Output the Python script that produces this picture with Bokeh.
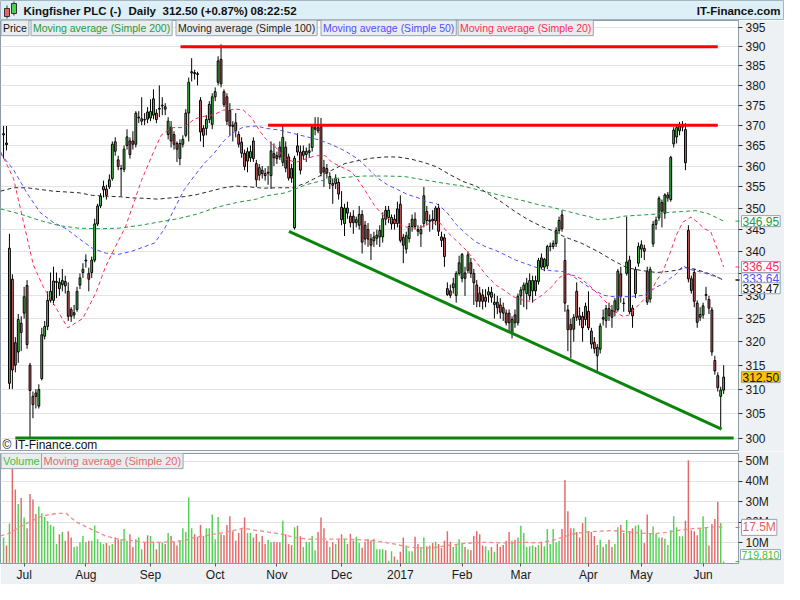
from bokeh.plotting import figure
from bokeh.models import Range1d, FixedTicker, BasicTickFormatter, Label, ColumnDataSource, GridBox
from bokeh.embed import file_html
from bokeh.resources import INLINE
from bokeh.core.properties import value

# ---------------- data ----------------
opens = [
    367.6, 365.6, 311.2, 333.7, 319.8, 317.8, 324.0, 326.2, 332.3, 315.0,
    308.5, 309.2, 306.5, 312.2, 321.2, 323.3, 329.0, 329.0, 333.0, 333.0,
    332.5, 333.2, 331.0, 327.0, 325.8, 327.0, 332.4, 335.2, 337.8, 335.0,
    335.2, 338.0, 346.3, 350.5, 354.3, 354.5, 355.0, 357.0, 365.9, 361.5,
    359.3, 359.2, 365.0, 366.1, 366.1, 365.3, 371.8, 371.0, 371.4, 373.3,
    371.8, 372.5, 373.0, 374.0, 374.8, 374.6, 367.7, 369.5, 367.7, 365.5,
    361.8, 365.3, 367.5, 373.0, 383.2, 383.3, 383.0, 376.2, 369.2, 369.2,
    371.4, 370.2, 377.1, 380.8, 386.7, 378.4, 377.1, 373.7, 370.0, 370.6,
    367.7, 365.8, 363.1, 361.2, 362.0, 366.1, 360.6, 357.8, 359.0, 358.2,
    358.3, 357.7, 363.0, 362.5, 364.6, 360.9, 364.6, 362.2, 359.4, 345.4,
    364.9, 363.4, 362.6, 362.8, 363.3, 364.5, 369.0, 369.4, 369.6, 359.6,
    359.4, 355.8, 355.8, 355.8, 356.1, 350.2, 346.4, 350.0, 348.1, 348.1,
    346.6, 346.0, 348.5, 346.0, 345.0, 342.8, 342.4, 343.0, 343.3, 343.3,
    349.5, 347.8, 346.3, 347.4, 346.4, 350.9, 343.2, 340.5, 342.9, 345.7,
    347.4, 345.0, 344.0, 346.4, 349.2, 346.9, 347.4, 347.0, 350.0, 343.3,
    343.1, 331.6, 331.1, 331.8, 330.1, 335.0, 333.9, 335.1, 335.7, 337.4,
    335.0, 332.4, 330.6, 330.2, 328.8, 330.2, 330.8, 328.1, 328.6, 328.0,
    327.4, 326.2, 326.2, 321.8, 325.8, 324.1, 330.0, 331.3, 330.5, 330.0,
    331.1, 333.4, 333.2, 338.5, 336.4, 336.7, 341.1, 341.1, 341.8, 344.8,
    348.4, 337.9, 326.9, 323.7, 322.7, 331.0, 325.6, 325.5, 324.8, 326.6,
    322.3, 319.9, 317.0, 318.4, 325.2, 324.6, 327.2, 326.8, 326.5, 327.0,
    334.9, 328.4, 335.0, 338.0, 327.3, 330.5, 337.3, 340.5, 340.7, 335.5,
    329.3, 341.7, 346.2, 347.7, 351.3, 348.8, 352.4, 352.0, 365.4, 367.1,
    368.6, 369.5, 368.9, 344.8, 333.8, 335.2, 328.4, 325.3, 325.8, 330.1,
    329.2, 326.9, 316.0, 312.8, 308.5, 309.8,
]
highs = [
    369.8, 369.8, 344.0, 334.8, 321.0, 326.0, 325.5, 332.0, 333.5, 315.5,
    309.5, 310.0, 311.0, 323.0, 324.5, 331.0, 335.2, 336.5, 335.2, 334.0,
    336.0, 334.5, 333.0, 327.5, 328.0, 332.0, 335.0, 337.3, 339.3, 336.3,
    338.8, 347.5, 351.0, 353.5, 356.5, 355.5, 358.0, 366.0, 367.0, 362.5,
    360.3, 365.0, 369.0, 367.0, 368.5, 373.5, 373.5, 377.0, 373.0, 374.5,
    376.5, 379.0, 374.0, 380.0, 377.0, 375.5, 372.0, 371.0, 368.5, 366.0,
    366.5, 367.5, 374.0, 382.0, 387.0, 384.0, 383.5, 377.0, 370.0, 372.5,
    376.0, 378.0, 379.5, 387.5, 390.6, 379.0, 378.0, 375.5, 371.0, 373.0,
    368.5, 367.0, 364.0, 364.5, 365.0, 367.0, 361.5, 360.5, 360.0, 359.5,
    360.0, 366.0, 365.5, 363.5, 366.0, 370.0, 366.0, 363.0, 360.5, 362.5,
    368.0, 365.0, 365.0, 364.5, 365.5, 370.3, 372.0, 372.0, 371.8, 361.5,
    360.5, 358.5, 357.0, 358.0, 357.0, 354.0, 351.0, 351.5, 349.0, 349.5,
    348.0, 350.5, 349.5, 347.0, 346.5, 344.0, 344.5, 345.0, 346.0, 349.0,
    350.5, 350.5, 348.5, 348.5, 351.5, 353.0, 344.0, 344.5, 346.5, 348.5,
    349.0, 346.0, 346.0, 355.0, 350.5, 348.5, 349.5, 350.5, 351.0, 344.5,
    344.0, 333.0, 332.5, 334.0, 335.5, 339.0, 339.6, 336.5, 340.0, 338.5,
    336.0, 333.5, 332.0, 331.5, 331.5, 332.0, 332.0, 330.5, 330.0, 329.5,
    328.5, 327.0, 327.0, 325.5, 327.0, 330.5, 332.0, 333.0, 334.0, 335.0,
    334.5, 334.5, 338.5, 339.5, 338.5, 341.5, 342.0, 342.5, 345.5, 348.0,
    349.5, 343.0, 328.0, 325.0, 326.0, 333.0, 327.5, 326.5, 328.5, 331.0,
    323.0, 321.0, 319.5, 324.0, 327.0, 328.0, 328.5, 328.0, 329.5, 336.0,
    336.5, 329.5, 348.0, 339.0, 328.0, 336.5, 342.0, 342.5, 341.5, 336.5,
    336.5, 347.0, 348.0, 352.8, 352.0, 353.5, 353.8, 362.5, 369.5, 370.0,
    370.8, 371.0, 370.5, 346.0, 334.5, 336.0, 329.0, 327.5, 328.5, 332.0,
    330.0, 327.5, 317.0, 313.5, 310.5, 315.0,
]
lows = [
    361.8, 363.8, 310.0, 310.0, 313.5, 315.5, 318.0, 325.0, 318.5, 300.1,
    304.0, 306.0, 306.0, 311.8, 320.5, 322.5, 328.5, 328.0, 329.5, 330.0,
    331.0, 330.5, 324.5, 324.3, 325.0, 326.5, 331.5, 334.0, 336.3, 331.0,
    334.0, 337.5, 345.8, 350.0, 352.5, 352.0, 354.5, 356.5, 362.5, 359.0,
    352.8, 358.5, 364.0, 361.8, 364.0, 364.5, 370.5, 370.0, 370.0, 370.5,
    371.0, 371.5, 370.5, 372.0, 372.5, 372.5, 366.5, 364.5, 364.0, 361.0,
    360.2, 364.5, 367.0, 366.0, 381.0, 381.5, 380.0, 366.0, 364.6, 367.5,
    370.5, 369.0, 376.0, 380.0, 379.5, 374.5, 370.0, 367.5, 366.0, 367.0,
    364.5, 362.0, 359.0, 358.5, 361.0, 361.0, 355.0, 356.5, 357.0, 356.5,
    355.5, 354.5, 360.0, 360.5, 361.5, 360.0, 358.5, 356.5, 356.0, 345.0,
    362.5, 358.0, 361.5, 361.0, 362.0, 363.5, 367.5, 368.0, 357.5, 355.0,
    357.0, 354.5, 351.0, 354.5, 352.0, 346.0, 343.5, 347.5, 345.5, 344.0,
    345.5, 345.0, 339.5, 341.5, 341.0, 338.0, 341.0, 341.5, 341.0, 342.0,
    346.0, 346.5, 345.0, 345.0, 345.5, 342.0, 337.3, 339.5, 342.0, 344.5,
    345.0, 343.5, 341.0, 345.5, 346.0, 344.5, 345.0, 346.0, 343.5, 341.0,
    336.5, 330.0, 329.5, 330.5, 328.5, 334.5, 333.0, 330.0, 335.0, 334.0,
    328.0, 327.5, 327.5, 327.0, 327.5, 328.5, 328.5, 325.0, 326.0, 325.0,
    324.5, 323.5, 322.0, 320.7, 323.0, 323.5, 328.0, 327.5, 327.0, 329.0,
    328.5, 330.0, 332.5, 336.0, 335.5, 336.0, 340.0, 340.5, 341.0, 344.0,
    344.5, 326.5, 318.0, 316.5, 320.0, 324.5, 323.5, 320.0, 323.5, 322.5,
    318.5, 317.5, 313.8, 317.5, 323.5, 323.0, 324.5, 323.0, 325.5, 326.5,
    328.5, 326.5, 334.5, 326.0, 323.0, 329.5, 336.5, 338.5, 338.0, 328.0,
    328.5, 341.0, 345.0, 347.0, 345.5, 347.5, 351.5, 351.5, 364.5, 365.5,
    367.5, 368.5, 359.0, 333.0, 330.5, 327.5, 323.0, 324.5, 325.0, 329.0,
    326.0, 317.0, 313.0, 309.5, 301.9, 309.0,
]
closes = [
    367.9, 365.2, 340.7, 314.0, 315.0, 324.8, 322.0, 329.8, 319.4, 309.7,
    306.8, 308.5, 309.9, 321.5, 323.3, 329.0, 331.0, 333.3, 333.2, 331.6,
    333.4, 332.2, 325.5, 325.5, 326.3, 331.0, 334.0, 335.9, 338.0, 333.7,
    338.0, 346.3, 350.5, 352.8, 355.1, 353.0, 356.7, 365.3, 363.6, 359.9,
    359.4, 364.1, 367.1, 362.8, 365.3, 373.0, 372.0, 371.6, 371.3, 371.5,
    373.4, 376.6, 371.4, 374.2, 375.0, 374.0, 371.0, 366.1, 365.3, 364.1,
    365.5, 366.5, 373.0, 380.8, 383.5, 383.0, 382.8, 368.3, 367.5, 371.4,
    375.2, 377.1, 378.4, 386.3, 380.4, 375.2, 371.0, 369.8, 369.7, 368.6,
    365.3, 363.1, 359.9, 363.5, 363.5, 361.8, 356.7, 359.6, 358.2, 357.7,
    358.5, 363.7, 362.0, 361.8, 362.2, 367.0, 359.5, 357.1, 357.1, 361.9,
    363.4, 359.0, 363.6, 363.6, 363.7, 369.6, 369.4, 368.6, 358.3, 358.6,
    358.3, 357.5, 355.4, 357.1, 353.3, 347.3, 350.0, 348.8, 346.6, 346.6,
    347.3, 348.5, 342.1, 342.8, 342.8, 341.4, 343.3, 343.7, 344.8, 347.5,
    347.4, 349.5, 347.8, 346.4, 349.8, 342.5, 341.4, 343.6, 345.7, 347.4,
    345.7, 344.6, 345.0, 352.9, 347.1, 347.2, 347.0, 350.0, 344.6, 342.5,
    338.8, 330.3, 330.1, 332.7, 335.0, 337.4, 339.3, 333.9, 339.2, 335.0,
    332.9, 328.8, 328.8, 328.8, 329.7, 330.9, 329.7, 328.6, 327.4, 326.4,
    326.2, 324.1, 324.1, 324.8, 324.1, 329.9, 331.3, 332.4, 332.8, 333.4,
    333.4, 331.1, 337.9, 336.4, 338.2, 341.1, 341.2, 341.8, 344.8, 347.1,
    345.2, 328.4, 322.6, 322.6, 325.3, 325.3, 324.8, 323.0, 327.7, 323.0,
    319.5, 318.5, 318.8, 323.4, 324.9, 327.2, 325.7, 325.3, 328.9, 335.5,
    329.9, 328.3, 337.6, 326.5, 325.6, 335.9, 341.1, 341.5, 340.0, 328.6,
    335.9, 346.2, 347.2, 352.3, 349.3, 353.1, 353.1, 362.1, 368.8, 369.4,
    369.8, 370.2, 360.8, 333.8, 331.2, 328.8, 324.2, 325.9, 327.8, 330.3,
    327.3, 317.8, 313.8, 310.3, 309.8, 312.5,
]
volume_m = [
    12.5, 8.6, 19.4, 46.6, 36.0, 29.0, 31.9, 22.3, 17.1, 33.9,
    31.1, 24.1, 27.7, 24.4, 22.6, 20.6, 18.7, 17.9, 9.4, 14.1,
    15.2, 11.0, 15.6, 12.5, 7.9, 8.3, 10.2, 13.3, 10.2, 11.0,
    11.0, 18.4, 11.7, 10.2, 9.4, 9.9, 8.6, 9.4, 12.5, 11.4,
    11.7, 16.7, 11.0, 14.1, 7.9, 11.7, 12.5, 6.8, 10.2, 13.6,
    13.3, 10.6, 6.8, 9.9, 10.2, 9.4, 14.8, 13.3, 10.2, 8.6,
    11.0, 17.1, 15.2, 32.2, 17.1, 14.1, 12.9, 18.7, 13.3, 17.1,
    17.1, 23.8, 11.7, 22.6, 14.1, 13.6, 18.7, 23.0, 15.6, 11.0,
    14.8, 17.1, 22.3, 14.8, 14.8, 12.5, 14.4, 10.4, 13.3, 9.4,
    11.4, 10.2, 10.4, 10.2, 10.2, 20.8, 14.1, 9.4, 8.9, 17.6,
    18.3, 13.2, 7.9, 10.4, 10.2, 13.3, 6.3, 15.2, 22.3, 17.1,
    11.0, 7.9, 10.2, 9.4, 11.7, 14.1, 11.9, 9.4, 14.4, 11.0,
    12.9, 9.9, 7.5, 10.4, 11.7, 11.0, 11.9, 6.8, 6.8, 6.8,
    6.3, 1.2, 5.8,
    3.2, 1.6, 5.5, 12.5, 8.6, 5.8, 5.8, 12.9, 9.4, 7.5,
    12.5, 8.3, 8.6, 9.9, 10.4, 9.4, 7.5, 11.0, 15.6, 10.4,
    7.9, 9.4, 11.7, 9.9, 7.9, 6.8, 6.3, 13.3, 15.6, 14.1,
    8.6, 8.3, 6.3, 7.9, 5.5, 9.4, 7.9, 8.9, 11.0, 15.2,
    11.0, 11.4, 12.5, 18.3, 14.8, 7.9, 8.3, 8.6, 7.9, 8.9,
    10.4, 8.3, 16.7, 9.4, 16.7, 10.2, 11.0, 16.7, 40.7, 25.4,
    17.1, 17.1, 15.2, 12.5, 19.7, 22.6, 15.6, 15.2, 13.3, 8.9,
    11.4, 7.9, 9.4, 11.4, 7.9, 9.4, 17.6, 18.7, 14.8, 21.1,
    15.2, 17.1, 18.3, 18.7, 16.4, 9.9, 23.8, 14.8, 17.9, 14.4,
    12.5, 12.5, 11.9, 8.9, 16.1, 23.0, 17.6, 13.2, 13.2, 20.8,
    50.4, 16.1, 15.6, 13.6, 16.7, 23.0, 17.6, 8.6, 19.2, 21.6,
    30.0, 19.7, 0.71981,
]

# moving averages (bar index, value)
ma20_x = [-1, 3.4, 5.7, 10.1, 13.5, 16.8, 21.8, 26.9, 31.3, 34.7, 38, 41.4, 43.6, 46.9, 50.3, 53.6, 57, 61.5, 64.8, 68.2,
          71.5, 74.9, 79.3, 81.5, 84.5, 87.1, 89.4, 92.7, 96, 99.4, 102.8, 106.1, 109.5, 111.7, 114.9, 118.4, 120.6, 122.8,
          126.2, 129.5, 132.9, 136.2, 138.5, 141.8, 145.2, 148.5, 150.7, 154.1, 157.5, 160.8, 164.2, 167.5, 170.9, 173.1,
          176.4, 179.8, 183.1, 186.5, 188.7, 190.9, 194.3, 196.5, 199.8, 203.2, 206.6, 208.8, 211, 213.2, 215.5, 217.7,
          219.9, 222.2, 224.4, 226.6, 228.9, 231.1, 233.9, 236.1, 238.4, 240.6, 242.3, 243.9, 245]
ma20_y = [363.5, 357.0, 350.0, 337.0, 332.0, 328.5, 323.0, 325.0, 330.5, 336.5, 341.0, 345.5, 349.8, 356.5, 362.2, 367.5,
          369.4, 369.4, 371.5, 372.2, 372.6, 373.8, 374.0, 373.8, 371.8, 368.6, 366.5, 364.5, 361.7, 360.9, 361.7, 362.5,
          362.5, 360.9, 359.8, 358.6, 356.7, 354.4, 350.6, 348.0, 346.9, 345.7, 345.4, 345.4, 346.5, 346.5, 344.6, 342.4,
          340.2, 337.6, 334.6, 332.4, 331.0, 329.9, 329.1, 328.7, 330.1, 332.0, 333.8, 334.9, 334.5, 333.8, 332.0, 329.8,
          327.6, 326.2, 325.4, 325.9, 327.6, 329.1, 330.6, 333.4, 335.6, 339.3, 343.7, 346.7, 347.9, 346.7, 345.2, 344.5,
          341.5, 338.5, 336.45]
ma50_x = [-1, 3.4, 7.9, 12.4, 16.8, 21.3, 25.7, 30.2, 34.7, 39.1, 43.6, 48.1, 51.4, 54.8, 58.1, 61.5, 64.8, 68.2, 71.5,
          74.9, 78.2, 81.5, 86, 89.4, 93.8, 98.3, 102.8, 107.2, 111.7, 116.1, 120.6, 124, 127.3, 130.6, 134, 137.4, 140.7,
          144, 147.4, 150.7, 154.1, 157.5, 160.8, 164.2, 167.5, 170.9, 174.2, 177.6, 179.8, 183.1, 186.5, 190.9, 194.3,
          197.6, 200.9, 204.3, 207.7, 211, 214.4, 217.7, 219.9, 222.2, 224.4, 226.6, 228.9, 231.1, 233.4, 235.6, 237.9,
          241.2, 245]
ma50_y = [363.0, 359.1, 353.6, 349.0, 346.7, 345.2, 342.9, 340.7, 339.6, 339.3, 340.0, 341.1, 341.9, 345.2, 349.8, 354.4,
          357.5, 360.6, 363.0, 366.1, 368.2, 369.5, 369.8, 369.2, 368.8, 368.0, 367.2, 366.4, 365.2, 363.7, 361.7, 359.4,
          357.1, 355.5, 354.4, 353.2, 352.5, 351.5, 351.0, 349.1, 346.1, 343.9, 342.1, 341.0, 340.2, 339.1, 338.0, 337.2,
          336.7, 335.9, 335.6, 335.4, 334.1, 332.6, 331.2, 330.1, 329.8, 329.8, 329.9, 330.1, 330.9, 332.0, 332.6, 333.8,
          334.9, 336.7, 335.9, 335.6, 335.2, 334.5, 333.64]
ma100_x = [-1, 3.4, 7.9, 12.4, 16.8, 21.3, 25.7, 30.2, 34.7, 39.1, 43.6, 48.1, 52.5, 57, 61.5, 65.9, 70.4, 74.9, 79.3,
           83.8, 88.2, 93.8, 98.3, 102.8, 107.2, 111.7, 116.1, 120.6, 125, 129.5, 134, 138.5, 142.9, 147.4, 151.9, 156.3,
           160.8, 165.3, 169.7, 174.2, 178.7, 183.1, 186.5, 190.9, 196.5, 202.1, 207.7, 212.1, 216.6, 222.2, 225.5, 228.9,
           232.2, 235.6, 241.2, 245]
ma100_y = [354.0, 354.8, 354.8, 354.4, 354.0, 353.8, 353.6, 353.0, 352.8, 352.7, 352.4, 352.3, 352.1, 352.4, 352.7,
           353.2, 354.0, 354.8, 355.2, 355.0, 354.7, 354.8, 354.8, 355.9, 357.5, 359.0, 360.6, 361.3, 361.9, 362.2, 362.2,
           361.7, 360.9, 359.8, 357.9, 356.3, 355.2, 353.2, 351.3, 349.1, 347.2, 345.7, 344.8, 343.3, 341.9, 340.0, 337.8,
           336.3, 335.7, 335.2, 335.4, 335.7, 336.3, 335.9, 334.7, 333.47]
ma200_x = [-1, 5.7, 12.4, 19, 25.7, 32.4, 39.1, 45.8, 52.5, 59.2, 65.9, 72.6, 79.3, 86, 89.4, 96, 102.8, 109.5, 116.1,
           122.8, 129.5, 136.2, 142.9, 149.6, 156.3, 163.1, 169.7, 176.4, 183.1, 186.5, 190.9, 195.4, 199.8, 202.1, 206.6,
           211, 215.5, 222.2, 226.6, 231.1, 235.6, 240.1, 245]
ma200_y = [349.8, 348.6, 347.1, 345.9, 345.3, 345.2, 345.3, 345.9, 346.7, 347.5, 348.6, 350.2, 351.3, 352.1, 352.9,
           353.6, 355.5, 356.7, 357.3, 357.6, 357.6, 357.5, 356.7, 355.9, 355.2, 354.0, 352.9, 351.8, 350.6, 350.2, 349.4,
           348.6, 347.9, 347.3, 347.5, 348.1, 348.3, 348.6, 349.0, 349.2, 349.4, 348.6, 346.95]
vma20_x = [-1, 2.3, 5.7, 9, 12.4, 15.7, 19, 21.3, 24.6, 28, 31.3, 34.7, 39.1, 43.6, 48.1, 52.5, 57, 61.5, 64.8, 68.2,
           72.6, 77.1, 81.5, 86, 90.5, 94.9, 99.4, 103.9, 108.3, 112.8, 117.3, 121.7, 126.2, 129.5, 132.9, 137.4, 141.8,
           146.3, 150.7, 155.2, 159.7, 164.1, 168.6, 173.1, 177.5, 182, 186.5, 189.8, 193.2, 197.6, 202.1, 206.5, 211,
           215.5, 219.9, 224.4, 228.9, 233.3, 237.8, 242.2, 245]
vma20_y = [13.3, 14.8, 17.9, 20.2, 22.6, 23.8, 24.4, 24.4, 20.2, 17.9, 15.6, 13.3, 11.7, 11.0, 10.2, 10.2, 10.4, 11.0,
           12.5, 13.3, 14.4, 15.6, 17.1, 16.0, 15.1, 14.1, 12.5, 11.7, 11.7, 11.7, 11.7, 11.4, 11.0, 10.2, 9.4, 7.9, 7.5,
           7.5, 8.6, 9.4, 9.9, 10.2, 9.9, 9.9, 10.2, 9.9, 11.0, 12.5, 14.1, 15.1, 15.6, 15.9, 15.6, 14.8, 14.4, 14.8,
           15.9, 16.7, 17.1, 17.9, 17.5]

# drawn trend lines (bar index / price)
res_levels = [390.0, 370.0]
res_start = [60.2, 90.0]
res_end = [243.0, 243.0]
sup_level = 300.0
sup_start, sup_end = 4.0, 248.4
diag_x = [97.1, 244.3]
diag_y = [344.6, 301.8]

month_idx = [7, 28, 50, 72, 93, 115, 135, 156, 176, 199, 217, 238]
month_labels = ["Jul", "Aug", "Sep", "Oct", "Nov", "Dec", "2017", "Feb", "Mar", "Apr", "May", "Jun"]
price_ticks = [300, 305, 310, 315, 320, 325, 330, 335, 340, 345, 350, 355, 360, 365, 370, 375, 380, 385, 390, 395]
vol_ticks = [10, 20, 30, 40, 50]

last_price = 312.50
last_ma = {"200": 346.95, "100": 333.47, "50": 333.64, "20": 336.45}
last_vol_ma = 17.5
last_vol_text = "719,810"

# ---------------- styling ----------------
W = 784
AXW = 46
FRAME_W = W - AXW
H_MAIN = 431
H_VOL = 133
VOL_TOP, VOL_BOT = 2, 21
XR = (-1.04, 250.05)
PR = (297.3, 396.9)
VR = (-0.2, 53.7)
FONT = value("Liberation Sans")
GREEN_C = "#4fcf4f"
RED_C = "#e46666"
C200, C100, C50, C20 = "#1f9a3e", "#2a2a2a", "#4f4fff", "#ff2c56"
BORDER = "#8f9ba6"
AXBG = "#eef1f4"


def px2x(px):
    return XR[0] + px / FRAME_W * (XR[1] - XR[0])


x_range = Range1d(*XR)
p_range = Range1d(*PR)
v_range = Range1d(*VR)
idx = list(range(len(closes)))
up = [c >= o for o, c in zip(opens, closes)]
src = ColumnDataSource(dict(
    x=idx,
    top=[max(o, c) for o, c in zip(opens, closes)],
    bottom=[min(o, c) for o, c in zip(opens, closes)],
    high=highs, low=lows,
    color=[GREEN_C if u else RED_C for u in up],
    vcolor=["#55d055" if u else "#e46a6a" for u in up],
    vol=volume_m,
))

# ---------------- header ----------------
h = figure(width=W, height=20, x_range=Range1d(0, W), y_range=Range1d(0, 20), toolbar_location=None,
           output_backend="svg", min_border=0, x_axis_location=None, y_axis_location=None)
h.frame_align = False
h.grid.visible = False
h.background_fill_color = "#ddeff7"
h.border_fill_color = "#ddeff7"
h.outline_line_color = "#a6b6c0"
h.segment(x0=[6.5, 13.5], y0=[2, 5], x1=[6.5, 13.5], y1=[15, 19], line_color="#333333", line_width=1)
h.quad(left=[4, 11], right=[9, 16], bottom=[4, 7], top=[12, 17], fill_color=[RED_C, GREEN_C],
       line_color="#333333", line_width=1)
h.text(x=[23, 128, 162, 250], y=[10, 10, 10, 10],
       text=["Kingfisher PLC (-)", "Daily", "312.50 (+0.87%)", "08:22:52"],
       text_font=FONT, text_font_style="bold", text_font_size="11.5px", text_color="#111111",
       text_baseline="middle", text_align="left")
h.text(x=[W - 4], y=[10], text=["IT-Finance.com"], text_font=FONT, text_font_style="bold",
       text_font_size="11.5px", text_color="#111111", text_baseline="middle", text_align="right")

# ---------------- price chart ----------------
p = figure(width=W, height=H_MAIN, x_range=x_range, y_range=p_range, y_axis_type="log",
           y_axis_location="right", x_axis_location=None, toolbar_location=None, output_backend="svg",
           min_border_left=0, min_border_top=0, min_border_bottom=0, min_border_right=AXW)
p.background_fill_color = "white"
p.border_fill_color = AXBG
p.outline_line_color = BORDER
p.xgrid.visible = False
p.ygrid.ticker = FixedTicker(ticks=price_ticks)
p.ygrid.grid_line_color = "#e3e3e3"
ax = p.yaxis[0]
ax.ticker = FixedTicker(ticks=price_ticks)
ax.formatter = BasicTickFormatter(use_scientific=False)
ax.major_label_text_font = "Liberation Sans"
ax.major_label_text_font_size = "12px"
ax.major_label_text_color = "#1a1a1a"
ax.axis_line_color = BORDER
ax.major_tick_line_color = "#333333"
ax.major_tick_out = 4
ax.major_tick_in = 0
ax.minor_tick_line_color = None
ax.major_label_standoff = 3

p.segment(x0="x", y0="low", x1="x", y1="high", source=src, line_color="black", line_width=1)
p.vbar(x="x", width=0.62, top="top", bottom="bottom", fill_color="color", line_color="black",
       line_width=1, source=src)

for xs, ys, col in [(ma200_x, ma200_y, C200), (ma100_x, ma100_y, C100),
                    (ma50_x, ma50_y, C50), (ma20_x, ma20_y, C20)]:
    p.line(xs, ys, line_color=col, line_dash="4 3", line_width=1)

p.segment(x0=res_start, y0=res_levels, x1=res_end, y1=res_levels, line_color="#ff0000", line_width=3)
p.segment(x0=[sup_start], y0=[sup_level], x1=[sup_end], y1=[sup_level], line_color="#0b840b", line_width=3)
p.line(diag_x, diag_y, line_color="#0b840b", line_width=3)

leg = [("Price", "#111111", 0), ("Moving average (Simple 200)", C200, 30),
       ("Moving average (Simple 100)", "#222222", 175), ("Moving average (Simple 50)", C50, 320),
       ("Moving average (Simple 20)", C20, 457)]
for txt, col, px in leg:
    p.add_layout(Label(x=px2x(px + 0.5), y=395.0, text=txt, text_color=col, text_font="Liberation Sans",
                       text_font_size="10.5px", text_baseline="middle", text_align="left",
                       background_fill_color="#e9edf0", border_line_color="#97a3ad", padding=2))
p.add_layout(Label(x=px2x(2), y=298.6, text="\u00a9 IT-Finance.com", text_color="#111111",
                   text_font="Liberation Sans", text_font_size="12px", text_baseline="middle"))

# transparent overlay on the price chart, for the last-value boxes over the axis
ov = figure(width=W, height=H_MAIN, x_range=Range1d(0, W), y_range=p_range, y_axis_type="log",
            x_axis_location=None, y_axis_location=None, toolbar_location=None, output_backend="svg",
            min_border=0)
ov.frame_align = False
ov.grid.visible = False
ov.background_fill_alpha = 0
ov.border_fill_alpha = 0
ov.outline_line_color = None
marks = [("200", C200, "white", 0), ("20", C20, "white", 0), ("50", C50, "white", 1),
         ("100", "#111111", "white", -8)]
ov.segment(x0=[FRAME_W - 3] * 4, x1=[FRAME_W + 1] * 4, y0=[last_ma[k] for k, *_ in marks],
           y1=[last_ma[k] for k, *_ in marks], line_color=[c for _, c, *_ in marks], line_width=1)
for k, col, bg, off in marks:
    ov.add_layout(Label(x=FRAME_W + 3, y=last_ma[k], y_offset=off, text="%.2f" % last_ma[k], text_color=col,
                        text_font="Liberation Sans", text_font_size="12px", text_baseline="middle",
                        background_fill_color=bg, border_line_color="#97a3ad", padding=1))
ov.add_layout(Label(x=FRAME_W + 3, y=last_price, text="%.2f" % last_price, text_color="#111111",
                    text_font="Liberation Sans", text_font_size="12px", text_baseline="middle",
                    background_fill_color="#f6c30a", border_line_color="#97a3ad", padding=1))

# ---------------- volume chart ----------------
v = figure(width=W, height=H_VOL, x_range=x_range, y_range=v_range, y_axis_location="right",
           toolbar_location=None, output_backend="svg", min_border_left=0, min_border_top=VOL_TOP,
           min_border_bottom=VOL_BOT, min_border_right=AXW)
v.background_fill_color = "white"
v.border_fill_color = AXBG
v.outline_line_color = BORDER
v.xgrid.visible = False
v.ygrid.ticker = FixedTicker(ticks=vol_ticks)
v.ygrid.grid_line_color = "#e3e3e3"
vy = v.yaxis[0]
vy.ticker = FixedTicker(ticks=vol_ticks)
vy.major_label_overrides = {t: "%dM" % t for t in vol_ticks}
vy.major_label_text_font = "Liberation Sans"
vy.major_label_text_font_size = "12px"
vy.major_label_text_color = "#1a1a1a"
vy.axis_line_color = BORDER
vy.major_tick_line_color = "#333333"
vy.major_tick_out = 4
vy.major_tick_in = 0
vy.minor_tick_line_color = None
vy.major_label_standoff = 3
vx = v.xaxis[0]
vx.ticker = FixedTicker(ticks=month_idx)
vx.major_label_overrides = {i: l for i, l in zip(month_idx, month_labels)}
vx.major_label_text_font = "Liberation Sans"
vx.major_label_text_font_size = "12px"
vx.major_label_text_color = "#1a1a1a"
vx.axis_line_color = BORDER
vx.major_tick_line_color = "#555555"
vx.major_tick_out = 3
vx.major_tick_in = 0
vx.minor_tick_line_color = None
vx.major_label_standoff = 1

v.vbar(x="x", width=0.5, top="vol", bottom=0, fill_color="vcolor", line_color=None, source=src)
v.line(vma20_x, vma20_y, line_color="#f08a8a", line_dash="4 3", line_width=1.3)

v.add_layout(Label(x=px2x(0.5), y=50.2, text="Volume", text_color="#3fbf3f", text_font="Liberation Sans",
                   text_font_size="11px", text_baseline="middle", background_fill_color="#e9edf0",
                   border_line_color="#97a3ad", padding=2))
v.add_layout(Label(x=px2x(41), y=50.2, text="Moving average (Simple 20)", text_color="#e46a6a",
                   text_font="Liberation Sans", text_font_size="11px", text_baseline="middle",
                   background_fill_color="#e9edf0", border_line_color="#97a3ad", padding=2))

ov2 = figure(width=W, height=H_VOL, x_range=Range1d(0, W), y_range=v_range, x_axis_location=None,
             y_axis_location=None, toolbar_location=None, output_backend="svg", min_border_left=0,
             min_border_right=0, min_border_top=VOL_TOP, min_border_bottom=VOL_BOT)
ov2.frame_align = False
ov2.grid.visible = False
ov2.background_fill_alpha = 0
ov2.border_fill_alpha = 0
ov2.outline_line_color = None
ov2.segment(x0=[FRAME_W - 3] * 2, x1=[FRAME_W + 1] * 2, y0=[last_vol_ma, volume_m[-1]],
            y1=[last_vol_ma, volume_m[-1]], line_color=["#e06060", "#3fbf3f"], line_width=1)
ov2.add_layout(Label(x=FRAME_W + 3, y=last_vol_ma, text="%.1fM" % last_vol_ma, text_color="#e06060",
                     text_font="Liberation Sans", text_font_size="12px", text_baseline="middle",
                     background_fill_color="white", border_line_color="#97a3ad", padding=1))
ov2.add_layout(Label(x=FRAME_W + 2, y=volume_m[-1], y_offset=7, text=last_vol_text, text_color="#3fbf3f",
                     text_font="Liberation Sans", text_font_size="10.5px", text_baseline="middle",
                     background_fill_color="white", border_line_color="#97a3ad", padding=1))

layout = GridBox(children=[(h, 0, 0), (p, 1, 0), (ov, 1, 0), (v, 2, 0), (ov2, 2, 0)], spacing=0)
open("out.html", "w").write(file_html(layout, INLINE))
